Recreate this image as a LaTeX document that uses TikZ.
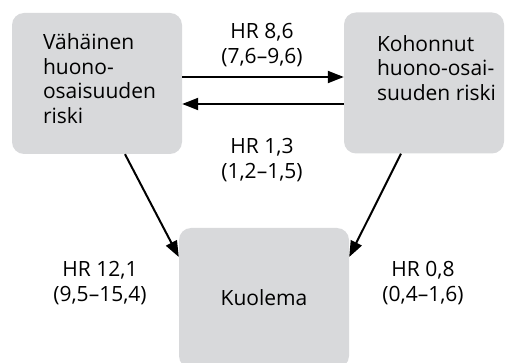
\documentclass[tikz,border=0pt]{standalone}
\usepackage{fontspec}
\setmainfont{Open Sans}
\usetikzlibrary{arrows.meta,positioning}
\definecolor{boxgray}{RGB}{216,217,219}

\begin{document}
\begin{tikzpicture}[
  x=1pt, y=-1pt,
  font=\fontsize{21}{24.5}\selectfont,
  state/.style={rectangle, fill=boxgray, rounded corners=12pt,
                minimum width=170pt, minimum height=141pt, inner sep=0pt},
  txt/.style={align=left, inner sep=0pt},
  hr/.style={align=center, inner sep=0pt},
  arr/.style={-{Triangle[length=16pt, width=12pt]}, line width=2pt},
]
\useasboundingbox (0,0) rectangle (506,363);

% the three states
\node[state]                     (low)   at (97,83.5) {};
\node[state, minimum width=160pt] (high) at (424,83) {};
\node[state, minimum height=140pt] (death) at (264,298) {Kuolema};

\node[txt, below right=21pt and 31pt of low.north west]  (lowtxt)
  {Vähäinen\\huono-\\osaisuuden\\riski};
\node[txt, below right=23pt and 33pt of high.north west] (hightxt)
  {Kohonnut\\huono-osai-\\suuden riski};

% transitions
\draw[arr] (low.east |- 0,77)   -- (high.west |- 0,77);
\draw[arr] (high.west |- 0,104) -- (low.east |- 0,104);
\draw[arr] (low.south -| 125,0) -- (death.west |- 0,257);
\draw[arr] (high.south -| 401,0) -- (death.east |- 0,257);

% hazard ratios
\node[hr] (hrup)    at (262,45)  {HR 8,6\\(7,6–9,6)};
\node[hr] (hrdown)  at (262,160) {HR 1,3\\(1,2–1,5)};
\node[hr] (hrlow)   at (100,283) {HR 12,1\\(9,5–15,4)};
\node[hr] (hrhigh)  at (423,283) {HR 0,8\\(0,4–1,6)};

\end{tikzpicture}
\end{document}
